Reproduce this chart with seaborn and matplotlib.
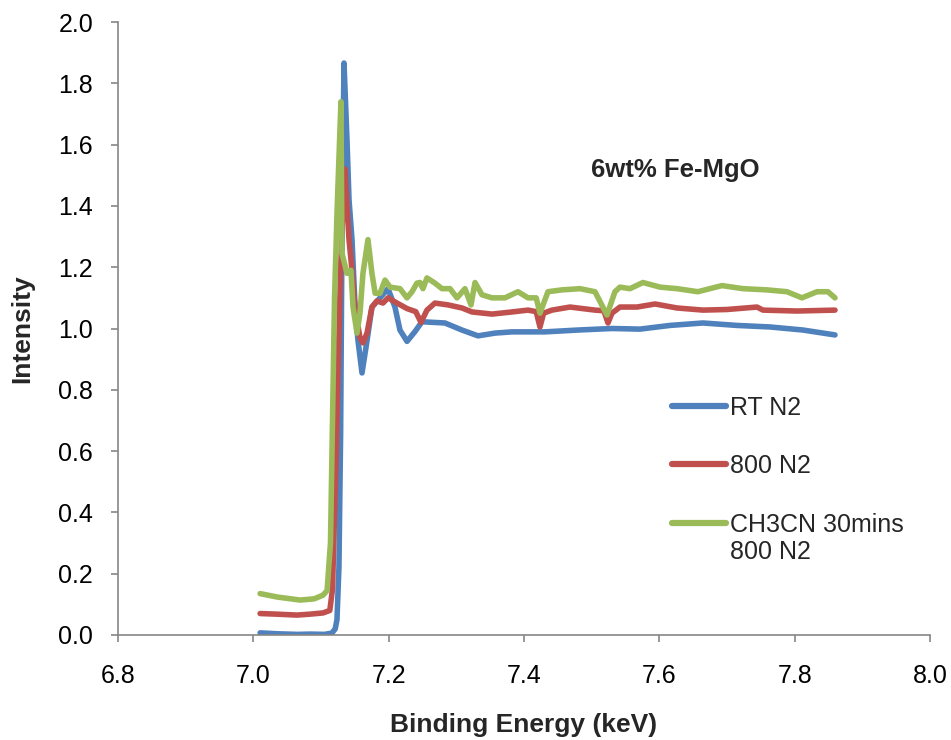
import numpy as np
import pandas as pd
import matplotlib
matplotlib.use("Agg")
import matplotlib.pyplot as plt
import seaborn as sns

# ---- data ----
series_names = ["RT N2", "800 N2", "CH3CN 30mins"]
series_label_extra = "800 N2"  # second line of the third legend entry
series_colors = ["#4F81BD", "#C0504D", "#9BBB59"]

rt_x = [7.010, 7.035, 7.065, 7.084, 7.105, 7.116, 7.121, 7.1236, 7.1265, 7.129, 7.131,
        7.1325, 7.134, 7.1384, 7.1414, 7.1458, 7.150, 7.1547, 7.1606, 7.168, 7.1753,
        7.1872, 7.199, 7.2093, 7.2167, 7.2271, 7.2389, 7.2492, 7.2832, 7.3083, 7.332,
        7.3571, 7.3822, 7.431, 7.4798, 7.530, 7.5714, 7.6157, 7.6645, 7.7147, 7.7635,
        7.8123, 7.8596]
rt_y = [0.007, 0.004, 0.002, 0.003, 0.002, 0.006, 0.02, 0.05, 0.22, 0.66, 1.30,
        1.60, 1.866, 1.615, 1.42, 1.29, 1.09, 0.96, 0.855, 0.96, 1.07,
        1.10, 1.13, 1.07, 0.995, 0.958, 0.99, 1.022, 1.018, 0.995, 0.976,
        0.985, 0.989, 0.989, 0.995, 1.0, 0.998, 1.01, 1.018, 1.01, 1.005,
        0.995, 0.979]

n800_x = [7.010, 7.035, 7.0645, 7.0837, 7.103, 7.113, 7.117, 7.122, 7.125, 7.129,
          7.134, 7.1355, 7.1384, 7.1414, 7.1458, 7.150, 7.1576, 7.162, 7.168, 7.1753,
          7.1827, 7.1916, 7.199, 7.2123, 7.2271, 7.240, 7.2478, 7.2566, 7.2684, 7.2877,
          7.3083, 7.3231, 7.3527, 7.3822, 7.4059, 7.418, 7.4236, 7.429, 7.4413, 7.468,
          7.5049, 7.518, 7.5241, 7.530, 7.5418, 7.567, 7.5936, 7.626, 7.6645, 7.700,
          7.7443, 7.7532, 7.8034, 7.8596]
n800_y = [0.070, 0.068, 0.065, 0.068, 0.072, 0.080, 0.15, 0.55, 0.85, 1.20,
          1.50, 1.52, 1.40, 1.29, 1.19, 1.07, 0.97, 0.953, 0.985, 1.07,
          1.09, 1.083, 1.10, 1.083, 1.065, 1.055, 1.02, 1.06, 1.083, 1.077,
          1.067, 1.054, 1.047, 1.054, 1.06, 1.055, 1.005, 1.05, 1.06, 1.07,
          1.06, 1.058, 1.018, 1.05, 1.07, 1.07, 1.08, 1.067, 1.06, 1.062,
          1.07, 1.06, 1.057, 1.06]

ch3cn_x = [7.010, 7.035, 7.069, 7.090, 7.103, 7.109, 7.114, 7.117, 7.120, 7.124,
           7.1295, 7.131, 7.1384, 7.1443, 7.1473, 7.1532, 7.1576, 7.162, 7.1694, 7.1753,
           7.180, 7.1872, 7.1946, 7.202, 7.2167, 7.2271, 7.2345, 7.2418, 7.2463, 7.2507,
           7.2566, 7.2684, 7.2788, 7.2906, 7.301, 7.3128, 7.3217, 7.3276, 7.3379, 7.3527,
           7.3719, 7.3911, 7.4059, 7.418, 7.4236, 7.4354, 7.4561, 7.4827, 7.5049, 7.5226,
           7.5344, 7.5418, 7.5566, 7.5758, 7.601, 7.626, 7.657, 7.6926, 7.7236, 7.759,
           7.7886, 7.8108, 7.833, 7.8492, 7.8596]
ch3cn_y = [0.135, 0.124, 0.114, 0.118, 0.130, 0.145, 0.30, 0.70, 1.10, 1.40,
           1.74, 1.245, 1.18, 1.19, 1.07, 0.985, 1.05, 1.18, 1.29, 1.18,
           1.115, 1.115, 1.158, 1.135, 1.13, 1.10, 1.12, 1.148, 1.15, 1.13,
           1.165, 1.148, 1.13, 1.13, 1.10, 1.13, 1.077, 1.15, 1.11, 1.10,
           1.10, 1.12, 1.10, 1.10, 1.05, 1.12, 1.126, 1.13, 1.12, 1.044,
           1.12, 1.135, 1.13, 1.15, 1.135, 1.13, 1.12, 1.14, 1.13, 1.126,
           1.12, 1.10, 1.12, 1.12, 1.10]

x_ticks = [6.8, 7.0, 7.2, 7.4, 7.6, 7.8, 8.0]
y_ticks = [0.0, 0.2, 0.4, 0.6, 0.8, 1.0, 1.2, 1.4, 1.6, 1.8, 2.0]
x_label = "Binding Energy (keV)"
y_label = "Intensity"
annotation = "6wt% Fe-MgO"

# ---- build long table ----
frames = []
for name, xs, ys in zip(series_names, [rt_x, n800_x, ch3cn_x], [rt_y, n800_y, ch3cn_y]):
    frames.append(pd.DataFrame({"Energy": xs, "Intensity": ys, "Series": name}))
df = pd.concat(frames, ignore_index=True)

sns.set_theme(style="white")
plt.rcParams["font.family"] = ["Liberation Sans", "DejaVu Sans"]

W, H = 951, 740
fig = plt.figure(figsize=(W / 100, H / 100), dpi=100)
ax = fig.add_axes([118 / W, 1 - 635 / H, (930 - 118) / W, (635 - 22) / H])

sns.lineplot(data=df, x="Energy", y="Intensity", hue="Series", hue_order=series_names,
             palette=series_colors, estimator=None, sort=False, linewidth=4.0,
             ax=ax, legend=True)
for ln in ax.get_lines():
    ln.set_solid_capstyle("round")
    ln.set_solid_joinstyle("round")

ax.set_xlim(6.8, 8.0)
ax.set_ylim(0.0, 2.0)
ax.set_xticks(x_ticks)
ax.set_yticks(y_ticks)
ax.set_xticklabels([f"{v:.1f}" for v in x_ticks])
ax.set_yticklabels([f"{v:.1f}" for v in y_ticks])

for side in ["top", "right"]:
    ax.spines[side].set_visible(False)
for side in ["left", "bottom"]:
    ax.spines[side].set_color("#868686")
    ax.spines[side].set_linewidth(1.2)

ax.tick_params(axis="both", which="major", direction="out", length=5, width=1.2,
               color="#868686", labelsize=18, labelcolor="black", left=True, bottom=True)
ax.tick_params(axis="x", pad=16)
ax.tick_params(axis="y", pad=13)

ax.set_xlabel(x_label, fontsize=19, fontweight="bold", labelpad=18)
ax.set_ylabel(y_label, fontsize=19, fontweight="bold", labelpad=17)

ax.text(7.623, 1.517, annotation, fontsize=18.5, fontweight="bold", ha="center", va="center")

leg = ax.legend(loc="upper left", bbox_to_anchor=(0.67, 0.407), frameon=False,
                fontsize=18, handlelength=2.15, handletextpad=0.15, labelspacing=1.38,
                borderaxespad=0.0)
for h in leg.get_lines():
    h.set_linewidth(4.5)
    h.set_solid_capstyle("round")

# second line of the third legend label, placed right under the first line
fig.canvas.draw()
bb = leg.get_texts()[2].get_window_extent()
fig.text(bb.x0 / W, (bb.y0 - 27) / H, series_label_extra, fontsize=18,
         ha="left", va="bottom")

fig.savefig("out.png", dpi=100)
